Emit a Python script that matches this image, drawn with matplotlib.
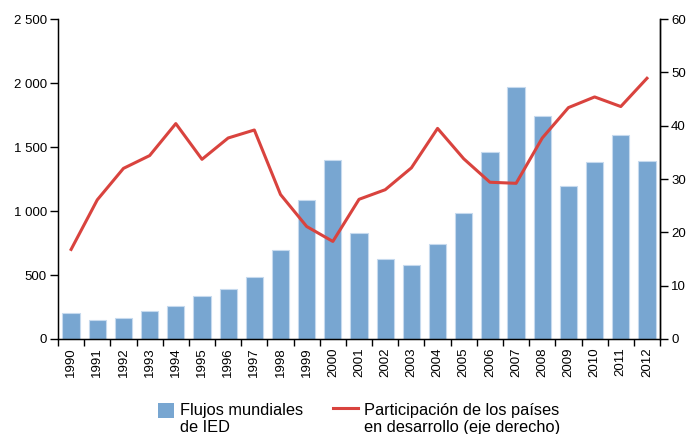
import matplotlib.pyplot as plt
import matplotlib.ticker as mticker
from matplotlib.patches import Patch, Rectangle
from matplotlib.lines import Line2D
from matplotlib.legend_handler import HandlerBase

plt.rcParams['font.family'] = ['Liberation Sans', 'DejaVu Sans']

years = [str(y) for y in range(1990, 2013)]
flujos_ied = [207, 150, 163, 222, 258, 339, 388, 485, 697, 1090, 1396, 826,
              626, 576, 740, 982, 1460, 1968, 1740, 1195, 1382, 1597, 1393]
participacion = [16.8, 26.1, 32.0, 34.4, 40.4, 33.7, 37.7, 39.2, 27.1, 21.1, 18.3,
                 26.2, 28.0, 32.1, 39.5, 33.8, 29.4, 29.2, 37.7, 43.4, 45.4, 43.6, 48.9]

bar_color = '#78a6d1'
line_color = '#d9433e'


class TopHandler(HandlerBase):
    # put the legend key next to the first line of a two-line label
    def create_artists(self, legend, orig_handle, xdescent, ydescent,
                       width, height, fontsize, trans):
        top = -ydescent + height
        if isinstance(orig_handle, Patch):
            sq = 0.92 * fontsize
            art = Rectangle((-xdescent, top - sq + 0.2 * fontsize), width, sq,
                            facecolor=orig_handle.get_facecolor(), edgecolor='none',
                            transform=trans)
        else:
            y = top - 0.14 * fontsize
            art = Line2D([-xdescent, -xdescent + width], [y, y],
                         color=orig_handle.get_color(),
                         linewidth=orig_handle.get_linewidth(), transform=trans)
        return [art]


fig = plt.figure(figsize=(6.89, 4.34), dpi=100)
ax = fig.add_axes([0.0842, 0.2189, 0.8738, 0.7371])
x = range(len(years))
ax.bar(x, flujos_ied, width=0.66, color=bar_color, edgecolor='#c6daee', linewidth=0.8, zorder=2)
ax.set_xlim(-0.5, len(years) - 0.5)
ax.set_ylim(0, 2500)
ax.set_yticks([0, 500, 1000, 1500, 2000, 2500])
ax.yaxis.set_major_formatter(mticker.FuncFormatter(lambda v, p: f'{int(v):,}'.replace(',', ' ')))
ax.set_xticks(list(x))
ax.set_xticklabels(years, rotation=90, fontsize=9.5)
ax.set_xticks([i - 0.5 for i in range(len(years) + 1)], minor=True)
ax.tick_params(axis='x', which='major', length=0, pad=6)
ax.tick_params(axis='x', which='minor', length=5, width=1, color='black')
ax.tick_params(axis='y', length=6, width=1, labelsize=9.5, pad=2)
ax.spines['top'].set_visible(False)
for s in ['left', 'bottom', 'right']:
    ax.spines[s].set_linewidth(1)

ax2 = ax.twinx()
ax2.plot(x, participacion, color=line_color, linewidth=2.2, zorder=3)
ax2.set_ylim(0, 60)
ax2.set_yticks(range(0, 61, 10))
ax2.tick_params(axis='y', length=6, width=1, labelsize=9.5, pad=2)
ax2.spines['top'].set_visible(False)
ax2.spines['right'].set_linewidth(1)

fs = 11.8
leg1 = fig.legend([Patch(facecolor=bar_color)], ['Flujos mundiales\nde IED'],
                  loc='upper left', bbox_to_anchor=(158 / 689, 1 - 403 / 434),
                  frameon=False, fontsize=fs, borderpad=0, borderaxespad=0,
                  handlelength=0.98, handleheight=2.3, handletextpad=0.35,
                  handler_map={Patch: TopHandler()})
leg2 = fig.legend([Line2D([0], [0], color=line_color, linewidth=2.2)],
                  ['Participación de los países\nen desarrollo (eje derecho)'],
                  loc='upper left', bbox_to_anchor=(333 / 689, 1 - 403 / 434),
                  frameon=False, fontsize=fs, borderpad=0, borderaxespad=0,
                  handlelength=1.5, handleheight=2.3, handletextpad=0.4,
                  handler_map={Line2D: TopHandler()})

fig.savefig('out.png', dpi=100)
